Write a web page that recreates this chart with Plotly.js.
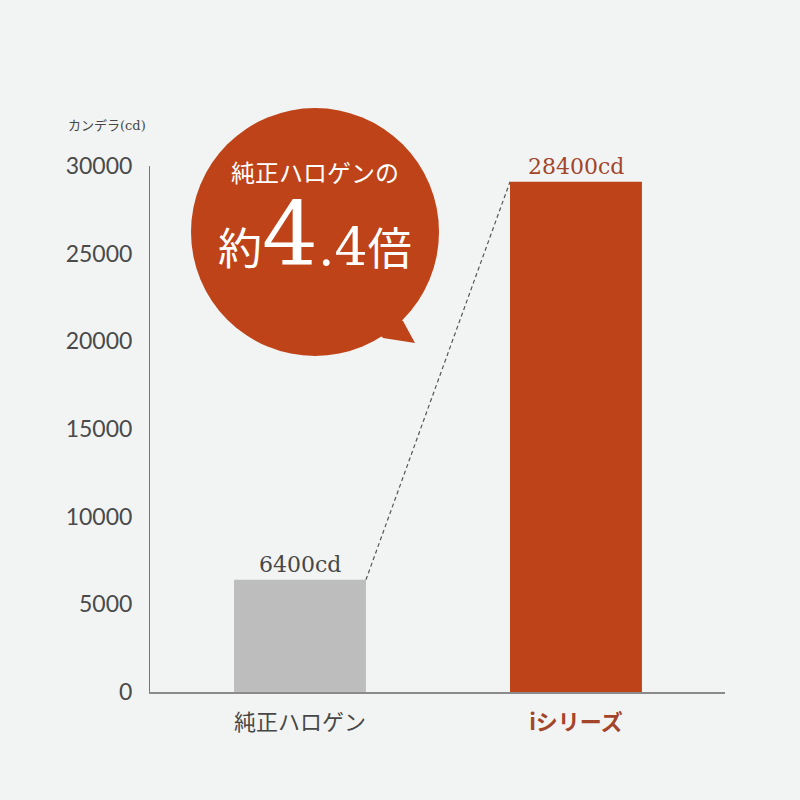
<!DOCTYPE html>
<html>
<head>
<meta charset="utf-8">
<script src="https://cdn.plot.ly/plotly-3.0.1.min.js"></script>
<style>
  html, body { margin: 0; padding: 0; background: #f2f4f4; }
</style>
</head>
<body>
<div id="chart" style="width:800px;height:800px;"></div>
<script>
"use strict";

// Data
var categories = ["純正ハロゲン", "iシリーズ"]
var barHeights = [6400, 29100]          // as drawn
var barLabels = ["6400cd", "28400cd"]
var yTicks = [0, 5000, 10000, 15000, 20000, 25000, 30000]

var barWidth = 0.478
var gray = "#bdbdbd"
var rust = "#bf4318"
var labelRust = "#a3452a"
var textGray = "#474747"

// pixel -> paper helpers (plot area is 150..725 x 166..692)
function fx(px){ return (px - 150) / 575 }
function fy(py){ return (692 - py) / 526 }

var xs = categories.map(function(c, i){ return i })

var bars = {
  type: "bar",
  x: xs,
  y: barHeights,
  width: barWidth,
  marker: { color: [gray, rust], line: { width: 0 } },
  hoverinfo: "skip",
  showlegend: false
}

// dashed connector from top-right of the first bar to top-left of the second
var connector = {
  type: "scatter",
  mode: "lines",
  x: [xs[0] + barWidth / 2, xs[1] - barWidth / 2],
  y: [barHeights[0], barHeights[1]],
  line: { color: "#555555", width: 1.2, dash: "4px,3px" },
  hoverinfo: "skip",
  showlegend: false
}

var tickText = [
  '<span style="color:' + textGray + '">' + categories[0] + '</span>',
  '<span style="color:' + labelRust + ';font-weight:bold">' + categories[1] + '</span>'
]

var annotations = [
  {
    xref: "x", yref: "y", x: xs[0], y: barHeights[0],
    text: barLabels[0], showarrow: false, yanchor: "bottom", yshift: 1,
    font: { family: "DejaVu Serif", size: 22, color: textGray }
  },
  {
    xref: "x", yref: "y", x: xs[1], y: barHeights[1],
    text: barLabels[1], showarrow: false, yanchor: "bottom", yshift: 1,
    font: { family: "DejaVu Serif", size: 22, color: labelRust }
  },
  {
    // axis unit title
    xref: "paper", yref: "paper", x: fx(148), y: fy(125),
    xanchor: "right", yanchor: "middle",
    text: 'カンデラ<span style="font-family:DejaVu Serif">(cd)</span>', showarrow: false,
    font: { family: "Noto Sans CJK JP", size: 13, color: textGray }
  },
  {
    xref: "paper", yref: "paper", x: fx(315), y: fy(171),
    xanchor: "center", yanchor: "middle",
    text: "純正ハロゲンの", showarrow: false,
    font: { family: "Noto Sans CJK JP", size: 24, color: "#ffffff" }
  },
  {
    xref: "paper", yref: "paper", x: fx(315), y: fy(235),
    xanchor: "center", yanchor: "middle",
    text: '<span style="font-family:Noto Sans CJK JP;font-size:44px">約</span>' +
          '<span style="font-family:DejaVu Serif;font-size:88px">4</span>' +
          '<span style="font-family:DejaVu Serif;font-size:52px">.4</span>' +
          '<span style="font-family:Noto Sans CJK JP;font-size:44px">倍</span>',
    showarrow: false,
    font: { family: "Noto Sans CJK JP", size: 40, color: "#ffffff" }
  }
]

var shapes = [
  {
    // speech bubble body
    type: "circle", xref: "paper", yref: "paper",
    x0: fx(191), x1: fx(439), y0: fy(356), y1: fy(108),
    fillcolor: rust, line: { width: 0 }, layer: "above"
  },
  {
    // speech bubble tail
    type: "path", xref: "paper", yref: "paper",
    path: "M " + fx(395) + "," + fy(316) +
          " L " + fx(403) + "," + fy(321) +
          " L " + fx(415) + "," + fy(343) +
          " L " + fx(383) + "," + fy(338) +
          " L " + fx(376) + "," + fy(330) + " Z",
    fillcolor: rust, line: { width: 0 }, layer: "above"
  }
]

var layout = {
  width: 800,
  height: 800,
  autosize: false,
  margin: { l: 150, r: 75, t: 166, b: 108, pad: 0 },
  paper_bgcolor: "#f2f4f4",
  plot_bgcolor: "#f2f4f4",
  showlegend: false,
  xaxis: {
    range: [-0.5435, 1.54],
    tickvals: xs,
    ticktext: tickText,
    showgrid: false,
    zeroline: false,
    showline: true,
    linecolor: "#8a8a8a",
    linewidth: 1.5,
    ticks: "",
    ticklabelstandoff: 10,
    tickfont: { family: "Noto Sans CJK JP", size: 22, color: textGray },
    fixedrange: true
  },
  yaxis: {
    range: [0, 30000],
    tickvals: yTicks,
    ticktext: yTicks.map(String),
    showgrid: false,
    zeroline: false,
    showline: true,
    linecolor: "#777777",
    linewidth: 1,
    ticks: "",
    ticklabelstandoff: 12,
    tickfont: { family: "Lato", size: 23, color: "#4a4a4a" },
    fixedrange: true
  },
  annotations: annotations,
  shapes: shapes
}

Plotly.newPlot("chart", [bars, connector], layout, { displayModeBar: false, staticPlot: true })
</script>
</body>
</html>
